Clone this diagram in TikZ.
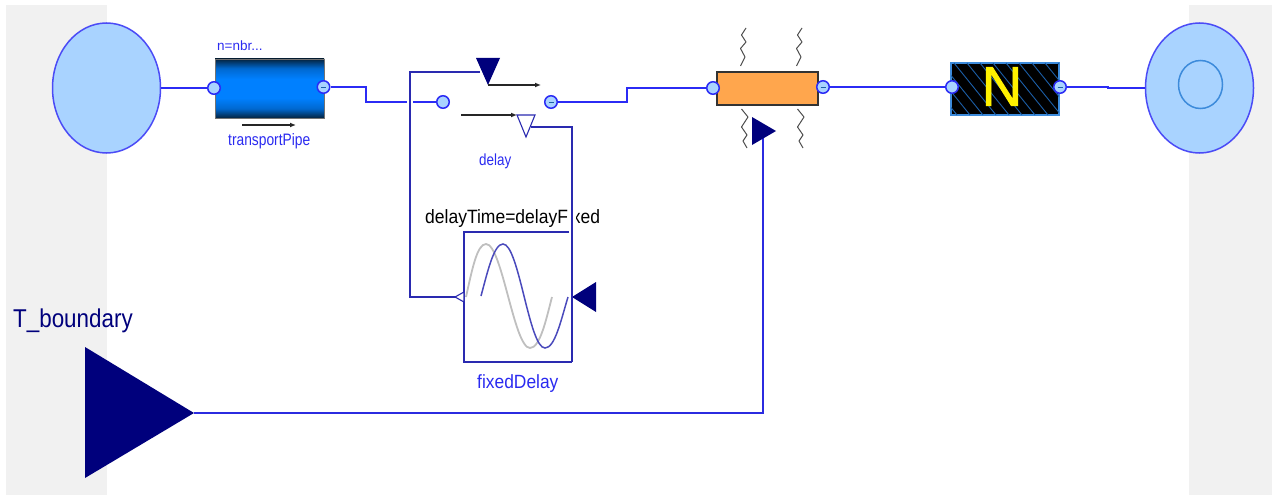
\documentclass[tikz,border=0pt]{standalone}
\usepackage{fontspec}
\setmainfont{Liberation Sans}
\newfontfamily\nfont[FakeBold=1.5]{Liberation Sans}
\usetikzlibrary{arrows.meta,shapes.geometric}
\definecolor{panel}{HTML}{F1F1F1}
\definecolor{fluid}{HTML}{A9D3FF}
\definecolor{wire}{HTML}{2B2BF5}
\definecolor{ctrl}{HTML}{2A2AB0}
\definecolor{navyfill}{HTML}{00007C}
\definecolor{labelblue}{HTML}{2A2AF0}
\definecolor{pipemid}{HTML}{0080FF}
\definecolor{pipeedge}{HTML}{0068D0}
\definecolor{pipedark}{HTML}{04233F}
\definecolor{heater}{HTML}{FFA64D}
\definecolor{hatchc}{HTML}{1C5FA8}
\definecolor{nborder}{HTML}{3D8BDB}
\pgfdeclareverticalshading{pipeshade}{100bp}{color(0bp)=(pipedark); color(25bp)=(pipedark); color(33bp)=(pipeedge); color(42bp)=(pipemid); color(58bp)=(pipemid); color(67bp)=(pipeedge); color(75bp)=(pipedark); color(100bp)=(pipedark)}
\tikzset{
  vessel/.style={ellipse,draw=wire!85!white,line width=1.5pt,fill=fluid,minimum width=108pt,minimum height=130pt,inner sep=0pt},
  port/.style={circle,draw=wire,line width=1.5pt,fill=fluid,minimum size=12.5pt,inner sep=0pt},
  wireline/.style={draw=wire,line width=1.5pt},
  ctrlline/.style={draw=ctrl,line width=1.5pt},
  flowarrow/.style={draw=black!85,line width=1.2pt,-{Latex[length=6pt,width=5pt]}},
  halo/.style={draw=white,line width=7pt},
  wiggle/.style={draw=black!70,line width=1pt,line join=round},
  lab/.style={inner sep=0pt,text=labelblue},
  ptxt/.style={inner sep=0pt},
}
\newcommand{\fs}[1]{\fontsize{#1}{#1}\selectfont}
\newcommand{\tall}[2]{\scalebox{1}[#1]{#2}}
\begin{document}
\begin{tikzpicture}[x=1pt,y=-1pt]
\useasboundingbox (0,0) rectangle (1272,495);
% background panels
\fill[panel] (6,5) rectangle (107,495);
\fill[panel] (1189,5) rectangle (1272,495);

% vessels
\node[vessel] (source) at (106.5,88) {};
\node[vessel] (sink) at (1199.5,88) {};
\node[ellipse,draw=nborder,line width=1.5pt,minimum width=44pt,minimum height=48pt,inner sep=0pt] (sinkinner) at (1200.5,84.5) {};

% pipe
\node[draw=black!55,line width=.6pt,shading=pipeshade,minimum width=109pt,minimum height=59pt,inner sep=0pt] (pipe) at (269.5,88.5) {};
\node[lab,anchor=base west,font=\fs{13.5}] (pipen) at (217,51) {n=nbr...};
\node[lab,anchor=base west,font=\fs{13.8}] (pipelab) at (228,145) {\tall{1.2}{transportPipe}};
\coordinate (pipeA) at (242,125);
\coordinate (pipeB) at (296,125);
\draw[flowarrow] (pipeA) -- (pipeB);

% heater
\node[draw=black!80,line width=1.2pt,fill=heater,minimum width=101pt,minimum height=33pt,inner sep=0pt] (heat) at (767.5,88.5) {};
\foreach \dx in {0,56}{
  \begin{scope}[xshift=\dx pt]
    \draw[wiggle] (746,28) -- (741.5,35) -- (746,42) -- (740.5,48.5) -- (745,57) -- (740.5,66);
    \draw[wiggle] (741.5,109) -- (748,117) -- (741.5,127) -- (747,135) -- (743,141) -- (747,148);
  \end{scope}
}

% N box
\node[draw=nborder,line width=1.2pt,fill=black,minimum width=108pt,minimum height=52pt,inner sep=0pt] (nbox) at (1005,89) {};
\begin{scope}
  \clip (951,63) rectangle (1059,115);
  \foreach \k in {0,...,14}{
    \draw[hatchc,line width=.9pt] (915+13*\k,63) -- (915+13*\k+42,115);
  }
\end{scope}
\node[inner sep=0pt,text=yellow,font=\nfont\fs{56}] (nlab) at (1002,86.5) {N};

% ports
\node[port] (p1) at (214,88) {};
\node[port] (p2) at (323.5,87) {};
\node[port] (p3) at (443,102) {};
\node[port] (p4) at (551,102) {};
\node[port] (p5) at (713,88) {};
\node[port] (p6) at (823,87) {};
\node[port] (p7) at (952,87) {};
\node[port] (p8) at (1060,87) {};
\foreach \p in {p2,p4,p6,p8}{
  \draw[hatchc,line width=.6pt] (\p.center) ++(-2.5,0) -- ++(5,0);
}

% fluid wires
\draw[wireline] (source.east |- p1) -- (p1);
\coordinate (w1) at (366,87);
\coordinate (w2) at (366,102);
\draw[wireline] (p2) -- (w1) -- (w2) -- (p3);
\coordinate (w3) at (627,102);
\coordinate (w4) at (627,88);
\draw[wireline] (p4) -- (w3) -- (w4) -- (p5);
\draw[wireline] (p6) -- (p7);
\coordinate (w5) at (1108,87);
\coordinate (w6) at (1108,88);
\draw[wireline] (p8) -- (w5) -- (w6) -- (sink.west |- w6);

% switch triangles
\coordinate (ta) at (476,58);
\coordinate (tb) at (500,58);
\coordinate (tc) at (488,85);
\fill[navyfill] (ta) -- (tb) -- (tc) -- cycle;
\coordinate (sA) at (541,85);
\draw[flowarrow] (tc) -- (sA);
\coordinate (td) at (517,115);
\coordinate (te) at (535,115);
\coordinate (tf) at (526,137);
\draw[draw=ctrl,line width=1.1pt,fill=white,line join=miter] (td) -- (te) -- (tf) -- cycle;
\coordinate (sB) at (461,115);
\draw[flowarrow] (sB) -- (td);
\node[lab,anchor=base west,font=\fs{13.4}] (delaylab) at (479,165) {\tall{1.2}{delay}};

% fixed delay block
\node[ptxt,anchor=base west,font=\fs{17.5}] (dtlab) at (425,223.5) {\tall{1.1}{delayTime=delayFixed}};
\coordinate (haloA) at (572,205);
\coordinate (haloB) at (572,234);
\draw[halo] (haloA) -- (haloB);
\coordinate (bTL) at (464,232);
\coordinate (bTR) at (569,232);
\coordinate (bBR) at (572,362);
\coordinate (bBL) at (464,362);
\draw[ctrlline] (bTR) -- (bTL) -- (bBL) -- (bBR);
\draw[draw=gray!50,line width=1.8pt] (466,297) .. controls (472,270) and (477,244) .. (486,244) .. controls (502,244) and (514,348) .. (530,348) .. controls (540,348) and (546,320) .. (552,297);
\draw[draw=ctrl!85!white,line width=1.5pt] (481,296) .. controls (488,270) and (494,244) .. (503,244) .. controls (519,244) and (529,348) .. (545,348) .. controls (555,348) and (561,320) .. (568,297);
\node[lab,anchor=base west,font=\fs{17.4}] (fdlab) at (477,388) {\tall{1.1}{fixedDelay}};
\coordinate (oa) at (455,297);
\coordinate (ob) at (464,292);
\coordinate (oc) at (464,302);
\draw[draw=ctrl,line width=1.1pt,fill=white] (oa) -- (ob) -- (oc) -- cycle;
\coordinate (ia) at (572,297);
\coordinate (ib) at (596,282);
\coordinate (ic) at (596,312);
\fill[navyfill] (ia) -- (ib) -- (ic) -- cycle;

% control wires
\coordinate (c1) at (410,72);
\coordinate (c2) at (410,297);
\coordinate (c3) at (480,72);
\coordinate (c4) at (572,127);
\coordinate (c5) at (531,127);
\coordinate (hA) at (410,98);
\coordinate (hB) at (410,106);
\draw[draw=white,line width=6pt] (hA) -- (hB);
\draw[ctrlline,line cap=butt] (c3) -- (c1) -- (c2) -- (oa);
\draw[ctrlline] (c5) -- (c4) -- (bBR);

% boundary
\coordinate (ba) at (85,347);
\coordinate (bb) at (85,478);
\coordinate (bc) at (194,413);
\fill[navyfill] (ba) -- (bc) -- (bb) -- cycle;
\node[ptxt,text=navyfill,anchor=base west,font=\fs{22.4}] (tlab) at (13,327) {\tall{1.15}{T\_boundary}};
\coordinate (ha) at (752,117);
\coordinate (hb) at (752,145);
\coordinate (hc) at (776,131);
\coordinate (cc) at (763,413);
\coordinate (ct) at (763,137);
\draw[draw=wire!70!ctrl,line width=1.3pt] (bc) -- (cc) -- (ct);
\fill[navyfill] (ha) -- (hc) -- (hb) -- cycle;
\end{tikzpicture}
\end{document}
